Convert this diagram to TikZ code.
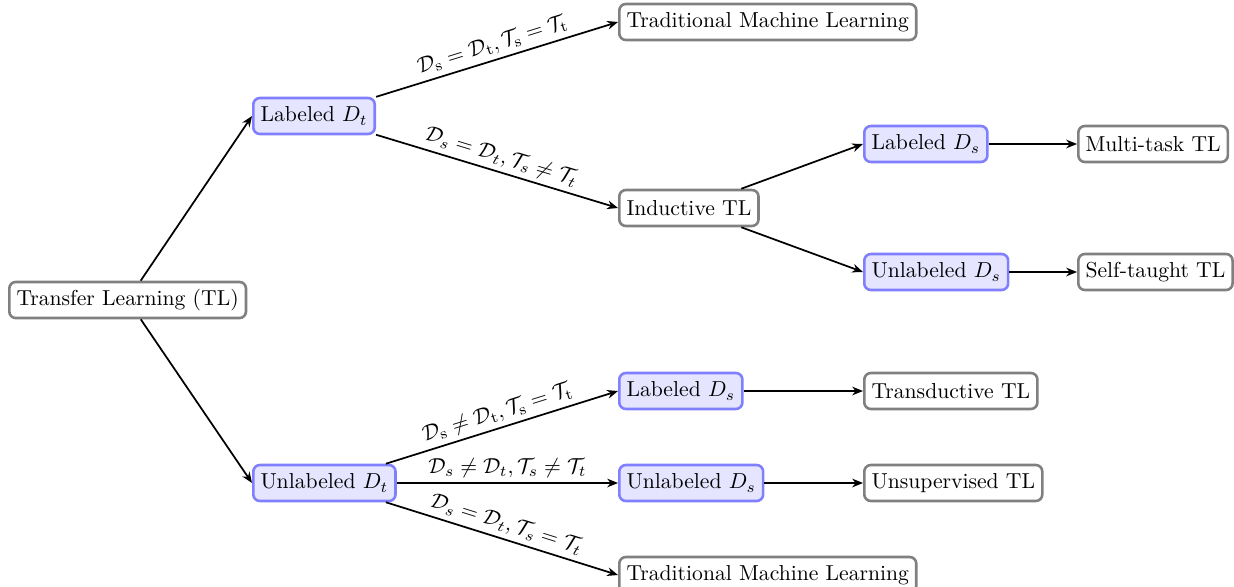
\documentclass[tikz,border=0pt]{standalone}
\usetikzlibrary{arrows.meta}
\begin{document}
\begin{tikzpicture}[
  x={(0.4619pt,0)}, y={(0,-0.4619pt)},
  base/.style={rounded corners=3pt, line width=1.2pt, minimum height=16.6pt, inner sep=3.33pt, anchor=west},
  result/.style={base, draw=gray},
  data/.style={base, draw=blue!50, fill=blue!10},
  link/.style={thick, -{Stealth[length=5pt,width=4pt]}},
  cond/.style={midway, above, sloped, inner sep=2pt},
]
\useasboundingbox (0,0) rectangle (1234,586);

% level 0
\node[result] (tl) at (8,300) {Transfer Learning (TL)};
% level 1
\node[data] (ldt) at (252,116) {Labeled $D_t$};
\node[data] (udt) at (252,483) {Unlabeled $D_t$};
% level 2
\node[result] (tml1) at (618,22) {Traditional Machine Learning};
\node[result] (ind) at (618,208) {Inductive TL};
\node[data] (lds2) at (618,391) {Labeled $D_s$};
\node[data] (uds2) at (618,483) {Unlabeled $D_s$};
\node[result] (tml2) at (618,575) {Traditional Machine Learning};
% level 3
\node[data] (lds1) at (863,144) {Labeled $D_s$};
\node[data] (uds1) at (863,272) {Unlabeled $D_s$};
\node[result] (trd) at (863,391) {Transductive TL};
\node[result] (uns) at (863,483) {Unsupervised TL};
% level 4
\node[result] (mtl) at (1077,144) {Multi-task TL};
\node[result] (stl) at (1077,272) {Self-taught TL};

% connectors
\draw[link] (tl) -- (ldt.west);
\draw[link] (tl) -- (udt.west);

\draw[link] (ldt) -- (tml1.west)
  node[cond] {$\mathcal{D}_\mathrm{s}=\mathcal{D}_\mathrm{t},\mathcal{T}_\mathrm{s}=\mathcal{T}_\mathrm{t}$};
\draw[link] (ldt) -- (ind.west)
  node[cond] {$\mathcal{D}_s=\mathcal{D}_t,\mathcal{T}_s\neq\mathcal{T}_t$};

\draw[link] (ind) -- (lds1.west);
\draw[link] (ind) -- (uds1.west);
\draw[link] (lds1) -- (mtl.west);
\draw[link] (uds1) -- (stl.west);

\draw[link] (udt) -- (lds2.west)
  node[cond] {$\mathcal{D}_\mathrm{s}\neq\mathcal{D}_\mathrm{t},\mathcal{T}_\mathrm{s}=\mathcal{T}_\mathrm{t}$};
\draw[link] (udt) -- (uds2.west)
  node[cond] {$\mathcal{D}_s\neq\mathcal{D}_t,\mathcal{T}_s\neq\mathcal{T}_t$};
\draw[link] (udt) -- (tml2.west)
  node[cond] {$\mathcal{D}_s=\mathcal{D}_t,\mathcal{T}_s=\mathcal{T}_t$};

\draw[link] (lds2) -- (trd.west);
\draw[link] (uds2) -- (uns.west);
\end{tikzpicture}
\end{document}
